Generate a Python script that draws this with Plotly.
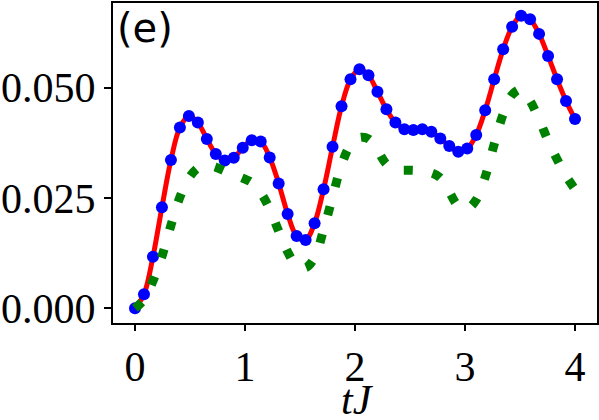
import numpy as np
import plotly.graph_objects as go

# time grid (50 samples between 0 and 4)
tJ = np.linspace(0, 4, 50)

# exact result (red line) / sampled points (blue dots)
exact = [0.0000, 0.0032, 0.0117, 0.0229, 0.0336, 0.0410, 0.0436, 0.0421, 0.0384, 0.0350,
         0.0335, 0.0341, 0.0364, 0.0381, 0.0378, 0.0342, 0.0283, 0.0214, 0.0164, 0.0155,
         0.0193, 0.0270, 0.0366, 0.0458, 0.0519, 0.0542, 0.0528, 0.0491, 0.0451, 0.0421,
         0.0406, 0.0404, 0.0406, 0.0400, 0.0385, 0.0368, 0.0355, 0.0362, 0.0393, 0.0449,
         0.0519, 0.0587, 0.0638, 0.0663, 0.0655, 0.0622, 0.0572, 0.0519, 0.0470, 0.0429]

# approximation (green dotted)
approx = [0.0000, 0.0020, 0.0062, 0.0118, 0.0188, 0.0252, 0.0295, 0.0318, 0.0325, 0.0320,
          0.0311, 0.0303, 0.0295, 0.0285, 0.0262, 0.0225, 0.0175, 0.0128, 0.0097, 0.0092,
          0.0115, 0.0178, 0.0252, 0.0325, 0.0370, 0.0387, 0.0384, 0.0358, 0.0327, 0.0314,
          0.0313, 0.0313, 0.0311, 0.0307, 0.0296, 0.0264, 0.0232, 0.0226, 0.0246, 0.0298,
          0.0372, 0.0440, 0.0484, 0.0496, 0.0470, 0.0428, 0.0380, 0.0338, 0.0300, 0.0270]

y_ticks = [0.0, 0.025, 0.05]
y_ticktext = ["0.000", "0.025", "0.050"]
x_ticks = [0, 1, 2, 3, 4]

fig = go.Figure()
fig.add_trace(go.Scatter(x=tJ, y=exact, mode="lines", line=dict(color="#ff0000", width=5, shape="spline")))
fig.add_trace(go.Scatter(x=tJ, y=exact, mode="markers", marker=dict(color="#0000ff", size=12)))
fig.add_trace(go.Scatter(x=tJ, y=approx, mode="lines",
                         line=dict(color="#008000", width=9, dash="9px,20px", shape="spline")))

serif = "Liberation Serif, Times New Roman, serif"
fig.update_layout(
    width=599, height=420,
    margin=dict(l=113, r=2, t=3, b=97),
    paper_bgcolor="white", plot_bgcolor="white",
    showlegend=False,
    font=dict(family=serif, size=42, color="black"),
)
fig.update_xaxes(range=[-0.2, 4.2], tickvals=x_ticks, showgrid=False, zeroline=False, automargin=False,
                 showline=True, linecolor="black", linewidth=2, mirror=True,
                 ticks="outside", ticklen=6, tickwidth=1.5, tickcolor="black")
fig.update_yaxes(range=[-0.00333, 0.0692], tickvals=y_ticks, ticktext=y_ticktext,
                 showgrid=False, zeroline=False, automargin=False,
                 showline=True, linecolor="black", linewidth=2, mirror=True,
                 ticks="outside", ticklen=7, tickwidth=1.5, tickcolor="black")

fig.add_annotation(text="(e)", xref="paper", yref="paper", x=0.0, y=1.0,
                   xanchor="left", yanchor="top", showarrow=False, xshift=2,
                   font=dict(family="DejaVu Sans", size=40, color="black"))
fig.add_annotation(text="<i>tJ</i>", xref="paper", yref="paper", x=0.5, y=-0.24,
                   xanchor="center", yanchor="middle", showarrow=False, xshift=2,
                   font=dict(family=serif, size=42, color="black"))

# drop the browser's default page margin so the figure sits at the window corner
fig.write_html("out.html", config={"displayModeBar": False},
               post_script="document.body.style.margin='0px';")
